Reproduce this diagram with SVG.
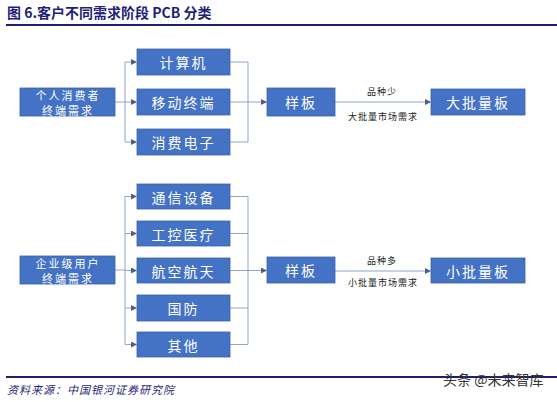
<svg xmlns="http://www.w3.org/2000/svg" width="557" height="402" viewBox="0 0 557 402">
<defs>
<style>
.box{fill:#4472c4;stroke:#3a62a8;stroke-width:0.8}
.bt{fill:#ffffff;font-family:"Noto Sans CJK SC","Noto Sans",sans-serif;font-size:14px;text-anchor:middle;dominant-baseline:central;letter-spacing:2px}
.lt{fill:#ffffff;font-family:"Noto Sans CJK SC","Noto Sans",sans-serif;font-size:11px;text-anchor:middle;dominant-baseline:central;letter-spacing:2px}
.ln{fill:none;stroke:#8ea5d2;stroke-width:1}
.lab{fill:#222222;font-family:"Noto Sans CJK SC","Noto Sans",sans-serif;font-size:9px;text-anchor:middle;dominant-baseline:central;letter-spacing:1px}
</style>
<marker id="ah" markerWidth="6" markerHeight="6" refX="5" refY="3" orient="auto" markerUnits="userSpaceOnUse">
<path d="M0,0 L6,3 L0,6 z" fill="#4a5f8c"/>
</marker>
</defs>
<rect width="557" height="402" fill="#ffffff"/>
<g id="title">
<text x="7" y="18" font-family="Noto Sans CJK SC,sans-serif" font-size="14" font-weight="bold" fill="#1f1f7a">图 6.客户不同需求阶段 PCB 分类</text>
<line x1="6" y1="25" x2="557" y2="25" stroke="#1f1f6e" stroke-width="2"/>
</g>
<g id="connectors">
<path class="ln" d="M115,102 H125"/>
<path class="ln" d="M125,62 V142"/>
<path class="ln" d="M125,62 H136" marker-end="url(#ah)"/>
<path class="ln" d="M125,102 H136" marker-end="url(#ah)"/>
<path class="ln" d="M125,142 H136" marker-end="url(#ah)"/>
<path class="ln" d="M230,62 H248 V142 H230"/>
<path class="ln" d="M230,102 H248"/>
<path class="ln" d="M248,102 H266" marker-end="url(#ah)"/>
<path class="ln" d="M335,102 H430" marker-end="url(#ah)"/>
<path class="ln" d="M115,270 H125"/>
<path class="ln" d="M125,196.5 V344.5"/>
<path class="ln" d="M125,196.5 H136" marker-end="url(#ah)"/>
<path class="ln" d="M125,233.5 H136" marker-end="url(#ah)"/>
<path class="ln" d="M125,270.5 H136" marker-end="url(#ah)"/>
<path class="ln" d="M125,308 H136" marker-end="url(#ah)"/>
<path class="ln" d="M125,344.5 H136" marker-end="url(#ah)"/>
<path class="ln" d="M230,196.5 H248 V344.5 H230"/>
<path class="ln" d="M230,233.5 H248"/>
<path class="ln" d="M230,270.5 H248"/>
<path class="ln" d="M230,308 H248"/>
<path class="ln" d="M248,270.5 H266" marker-end="url(#ah)"/>
<path class="ln" d="M335,271 H430" marker-end="url(#ah)"/>
<text class="lab" x="382" y="91">品种少</text>
<text class="lab" x="383" y="116">大批量市场需求</text>
<text class="lab" x="382" y="260">品种多</text>
<text class="lab" x="383" y="282">小批量市场需求</text>
</g>
<g id="n-personal"><rect class="box" x="20" y="88" width="95" height="28"/><text class="lt" x="68" y="95">个人消费者</text><text class="lt" x="68" y="109.5">终端需求</text></g>
<g id="n-computer"><rect class="box" x="137" y="49" width="93" height="26"/><text class="bt" x="183.5" y="62">计算机</text></g>
<g id="n-mobile"><rect class="box" x="137" y="89" width="93" height="26"/><text class="bt" x="183.5" y="102">移动终端</text></g>
<g id="n-consumer"><rect class="box" x="137" y="129" width="93" height="26"/><text class="bt" x="183.5" y="142">消费电子</text></g>
<g id="n-sample1"><rect class="box" x="267" y="88" width="68" height="28"/><text class="bt" x="301" y="102">样板</text></g>
<g id="n-large"><rect class="box" x="431" y="89" width="94" height="26"/><text class="bt" x="478" y="102">大批量板</text></g>
<g id="n-enterprise"><rect class="box" x="20" y="256" width="95" height="28"/><text class="lt" x="68" y="263">企业级用户</text><text class="lt" x="68" y="277.5">终端需求</text></g>
<g id="n-telecom"><rect class="box" x="137" y="184" width="93" height="25"/><text class="bt" x="183.5" y="196.5">通信设备</text></g>
<g id="n-industrial"><rect class="box" x="137" y="221" width="93" height="25"/><text class="bt" x="183.5" y="233.5">工控医疗</text></g>
<g id="n-aero"><rect class="box" x="137" y="258" width="93" height="25"/><text class="bt" x="183.5" y="270.5">航空航天</text></g>
<g id="n-defense"><rect class="box" x="137" y="295" width="93" height="26"/><text class="bt" x="183.5" y="308">国防</text></g>
<g id="n-other"><rect class="box" x="137" y="332" width="93" height="25"/><text class="bt" x="183.5" y="344.5">其他</text></g>
<g id="n-sample2"><rect class="box" x="267" y="257" width="68" height="26"/><text class="bt" x="301" y="270">样板</text></g>
<g id="n-small"><rect class="box" x="431" y="258" width="94" height="25"/><text class="bt" x="478" y="270.5">小批量板</text></g>
<g id="footer">
<line x1="6" y1="377" x2="557" y2="377" stroke="#1f1f6e" stroke-width="2"/>
<text x="7" y="394" font-family="Noto Sans CJK SC,sans-serif" font-size="11" font-style="italic" fill="#1f1f7a" letter-spacing="1">资料来源：中国银河证券研究院</text>
<text x="443" y="379" font-family="Noto Sans CJK SC,sans-serif" font-size="14" fill="#333333" dominant-baseline="central">头条 @未来智库</text>
</g>
</svg>
